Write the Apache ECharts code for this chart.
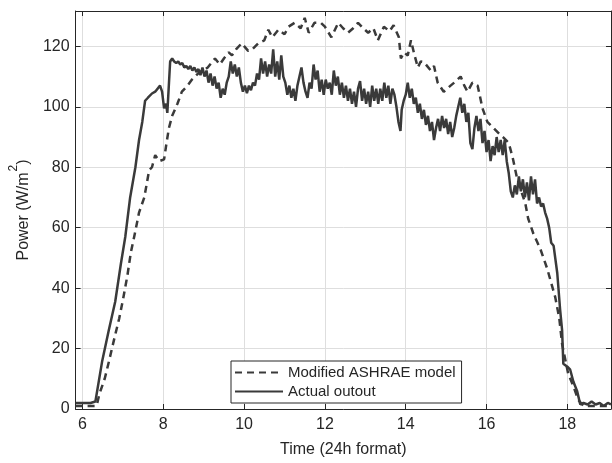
<!DOCTYPE html>
<html>
<head>
<meta charset="utf-8">
<script src="https://cdn.jsdelivr.net/npm/echarts@6/dist/echarts.min.js"></script>
<style>html,body{margin:0;padding:0;background:#fff}#c{width:612px;height:463px}</style>
</head>
<body>
<div id="c"></div>
<script>
const xTicks = [6, 8, 10, 12, 14, 16, 18];
const yTicks = [0, 20, 40, 60, 80, 100, 120];
const seriesNames = ['Modified ASHRAE model', 'Actual outout'];

const actualX = [5.83, 6.0, 6.2, 6.32, 6.49, 6.65, 6.81, 6.95, 7.06, 7.18, 7.31, 7.40, 7.48, 7.55, 7.62, 7.72, 7.8, 7.92, 7.97, 8.02, 8.07, 8.1,
  8.17, 8.22, 8.27, 8.32, 8.37, 8.42, 8.47, 8.52, 8.57, 8.62, 8.67, 8.72, 8.77, 8.82, 8.87, 8.92, 8.97, 9.02, 9.07, 9.12, 9.17, 9.22, 9.27, 9.32, 9.37, 9.42, 9.47, 9.52, 9.57, 9.62, 9.67, 9.72, 9.77, 9.82, 9.87, 9.92, 9.97,
  10.02, 10.07, 10.12, 10.17, 10.22, 10.27, 10.32, 10.37, 10.42, 10.47, 10.52, 10.57, 10.62, 10.67, 10.72, 10.77, 10.82, 10.87, 10.92, 10.97,
  11.02, 11.07, 11.12, 11.17, 11.22, 11.27, 11.32, 11.37, 11.42, 11.47, 11.52, 11.57, 11.62, 11.67, 11.72, 11.77, 11.82, 11.87, 11.92, 11.97,
  12.02, 12.07, 12.12, 12.17, 12.22, 12.27, 12.32, 12.37, 12.42, 12.47, 12.52, 12.57, 12.62, 12.67, 12.72, 12.77, 12.82, 12.87, 12.92, 12.97,
  13.02, 13.07, 13.12, 13.17, 13.22, 13.27, 13.32, 13.37, 13.42, 13.47, 13.52, 13.57, 13.62, 13.67, 13.72, 13.77, 13.82, 13.87, 13.9, 13.95,
  14.0, 14.05, 14.1, 14.15, 14.2, 14.25, 14.3, 14.35, 14.4, 14.45, 14.5, 14.55, 14.6, 14.65, 14.7, 14.75, 14.8, 14.85, 14.9, 14.95,
  15.0, 15.05, 15.1, 15.15, 15.2, 15.25, 15.3, 15.35, 15.4, 15.45, 15.5, 15.55, 15.6, 15.65, 15.7, 15.75, 15.8, 15.85, 15.9, 15.95,
  16.0, 16.05, 16.1, 16.15, 16.2, 16.25, 16.3, 16.35, 16.4, 16.45, 16.5, 16.55, 16.6, 16.65, 16.7, 16.75, 16.8, 16.85, 16.9, 16.95,
  17.0, 17.05, 17.1, 17.15, 17.2, 17.25, 17.3, 17.35, 17.4, 17.45, 17.5, 17.55, 17.6, 17.66, 17.75, 17.82, 17.87, 17.9, 18.0, 18.07, 18.15, 18.24, 18.32,
  18.4, 18.5, 18.6, 18.7, 18.8, 18.9, 19.0, 19.08];
const actualY = [2, 2, 2, 2.5, 16, 26, 35.5, 48, 57, 70, 80, 89, 95, 102, 103, 104.4, 105, 107, 105, 99.5, 101, 98,
  115, 116, 115, 114.5, 115, 114, 114.5, 113, 113.5, 112.5, 113.5, 112, 113, 111.5, 112.5, 110.5, 113, 110, 112, 108, 111, 107, 110, 106, 108, 103, 106, 104, 108, 110, 115, 111, 114, 110, 113, 108, 105,
  107, 104.5, 107, 105.5, 108, 107, 111, 109, 116, 111, 115, 110, 114, 111, 119, 110, 115, 109, 117, 110,
  108, 104, 107, 103, 106, 102, 107, 110, 113, 108, 105, 103, 108, 106, 114, 109, 112, 105, 109, 104,
  109, 106, 108, 104, 112, 107, 110, 104, 108, 103, 107, 102, 106, 101, 105, 100, 106, 108.5, 102, 106,
  101, 105, 100, 107, 102, 106, 101, 106, 102, 108, 103, 107, 101, 106, 104, 100, 95, 92, 99, 102,
  104, 108, 103, 106, 101, 103, 98, 101, 96, 99, 94, 97, 92, 95, 89, 93, 96, 92, 97, 93,
  96, 91, 95, 90, 93, 97, 100, 103, 98, 101, 95, 98, 88, 86, 93, 97, 92, 96, 88, 92,
  85, 89, 82, 87, 84, 90, 85, 89, 84, 89, 82, 78, 72, 70, 74, 71, 77, 72, 76, 70,
  75, 69, 77, 71, 76, 68, 70, 67, 68, 65, 63, 60, 55, 54, 45, 33, 26, 15, 14, 13, 9, 6, 1.5,
  2, 1.5, 2.5, 1.5, 2, 1, 2, 1.5];

const modelX = [5.83, 6.0, 6.2, 6.35, 6.42, 6.55, 6.66, 6.8, 6.91, 7.0, 7.11, 7.2, 7.28, 7.4, 7.53, 7.65, 7.72, 7.8, 7.9, 8.02, 8.08, 8.14, 8.22, 8.35, 8.46, 8.6, 8.71, 8.9, 9.0, 9.1, 9.28, 9.4, 9.5, 9.62, 9.7, 9.8, 9.94, 10.1, 10.2, 10.35, 10.5, 10.6, 10.7, 10.85, 11.0, 11.1, 11.25, 11.4, 11.5, 11.6, 11.74, 11.9, 12.0, 12.16, 12.33, 12.45, 12.57, 12.7, 12.82, 12.95, 13.07, 13.2, 13.31, 13.46, 13.6, 13.7, 13.83, 13.88, 13.96, 14.05, 14.13, 14.2, 14.3, 14.37, 14.45, 14.62, 14.7, 14.79, 14.94, 15.11, 15.2, 15.28, 15.36, 15.45, 15.53, 15.65, 15.78, 15.9, 16.02, 16.17, 16.34, 16.42, 16.55, 16.65, 16.76, 16.96, 17.03, 17.16, 17.33, 17.5, 17.7, 17.8, 17.87, 18.02, 18.15, 18.27, 18.4, 18.6, 18.8, 19.08];
const modelY = [1, 1, 1, 1, 5, 10, 16, 24, 30, 36, 44, 52, 57, 65, 70, 79, 80, 84, 82, 82.6, 88, 93, 97, 101, 105, 107, 109, 111.5, 112, 113, 116, 114, 116, 118, 117, 119, 121, 118.5, 119, 121, 122, 125.5, 123, 125.5, 124, 126.5, 127.8, 126, 129.4, 124.5, 127.8, 127.8, 126.5, 123, 127.8, 126, 124.5, 126, 127.8, 126, 124.5, 126, 122, 126.5, 125, 127, 123, 116, 118, 117, 122, 118, 113, 115, 114.8, 112, 113.5, 108, 105, 107, 108, 109, 110, 107, 105, 108, 107, 99.5, 95, 93, 90.7, 89.8, 88, 83, 76, 68, 63, 58, 53, 46.5, 37, 30, 21.5, 11.7, 7.5, 3, 1, 1, 1, 1];

const xMin = 5.83, xMax = 19.08, yMin = 0, yMax = 131.7;
const zip = (a, b) => a.map((v, i) => [v, b[i]]);
const font = 'Liberation Sans, Arial, sans-serif';
const txt = '#262626';

const chart = echarts.init(document.getElementById('c'), null, {renderer: 'canvas'});
const xLabelFmt = v => xTicks.some(t => Math.abs(t - v) < 1e-6) ? String(Math.round(v)) : '';
const yLabelFmt = v => yTicks.some(t => Math.abs(t - v) < 1e-6) ? String(Math.round(v)) : '';
const baseX = {
  type: 'value', min: xMin, max: xMax, splitNumber: 7,
  axisLine: {show: true, onZero: false, lineStyle: {color: txt, width: 1}},
  axisTick: {show: true, inside: true, length: 5, lineStyle: {color: txt}},
};
const baseY = {
  type: 'value', min: yMin, max: yMax, interval: 20,
  axisLine: {show: true, onZero: false, lineStyle: {color: txt, width: 1}},
  axisTick: {show: true, inside: true, length: 5, lineStyle: {color: txt}},
};
chart.setOption({
  animation: false,
  backgroundColor: '#fff',
  grid: {left: 73, right: 1, top: 11, bottom: 47, containLabel: false},
  xAxis: [
    Object.assign({}, baseX, {
      position: 'bottom',
      name: 'Time (24h format)', nameLocation: 'middle', nameGap: 33,
      nameTextStyle: {fontFamily: font, fontSize: 16, color: txt},
      axisLabel: {formatter: xLabelFmt, showMinLabel: false, showMaxLabel: false, margin: 8, fontFamily: font, fontSize: 16, color: txt},
      splitLine: {show: true, lineStyle: {color: '#dedede', width: 1}}
    }),
    Object.assign({}, baseX, {position: 'top', axisLabel: {show: false}, splitLine: {show: false}})
  ],
  yAxis: [
    Object.assign({}, baseY, {
      position: 'left',
      name: '{a|Power (W/m}{s|2}{a|)}', nameLocation: 'middle', nameGap: 38,
      nameTextStyle: {fontFamily: font, fontSize: 16, color: txt,
        rich: {
          a: {fontFamily: font, fontSize: 16, color: txt, lineHeight: 24, verticalAlign: 'bottom'},
          s: {fontFamily: font, fontSize: 12, color: txt, lineHeight: 24, verticalAlign: 'top', padding: [0, 0, 0, 1]}
        }},
      axisLabel: {formatter: yLabelFmt, showMaxLabel: false, margin: 6, fontFamily: font, fontSize: 16, color: txt},
      splitLine: {show: true, lineStyle: {color: '#dedede', width: 1}}
    }),
    Object.assign({}, baseY, {position: 'right', axisLabel: {show: false}, splitLine: {show: false}})
  ],
  legend: {
    orient: 'vertical', left: 231, top: 361, width: 231,
    padding: [4, 6, 4, 3], itemGap: 4, itemWidth: 48, itemHeight: 14,
    backgroundColor: '#fff', borderColor: txt, borderWidth: 1, borderRadius: 0,
    itemStyle: {opacity: 0},
    textStyle: {fontFamily: font, fontSize: 15, color: txt},
    data: seriesNames
  },
  series: [
    {name: seriesNames[0], type: 'line', symbol: 'none', data: zip(modelX, modelY),
     lineStyle: {color: '#3a3a3a', width: 2.5, type: [7, 5]}, itemStyle: {color: '#3a3a3a'}, z: 2},
    {name: seriesNames[1], type: 'line', symbol: 'none', data: zip(actualX, actualY),
     lineStyle: {color: '#3a3a3a', width: 2.5, type: 'solid'}, itemStyle: {color: '#3a3a3a'}, z: 3}
  ]
});
</script>
</body>
</html>
